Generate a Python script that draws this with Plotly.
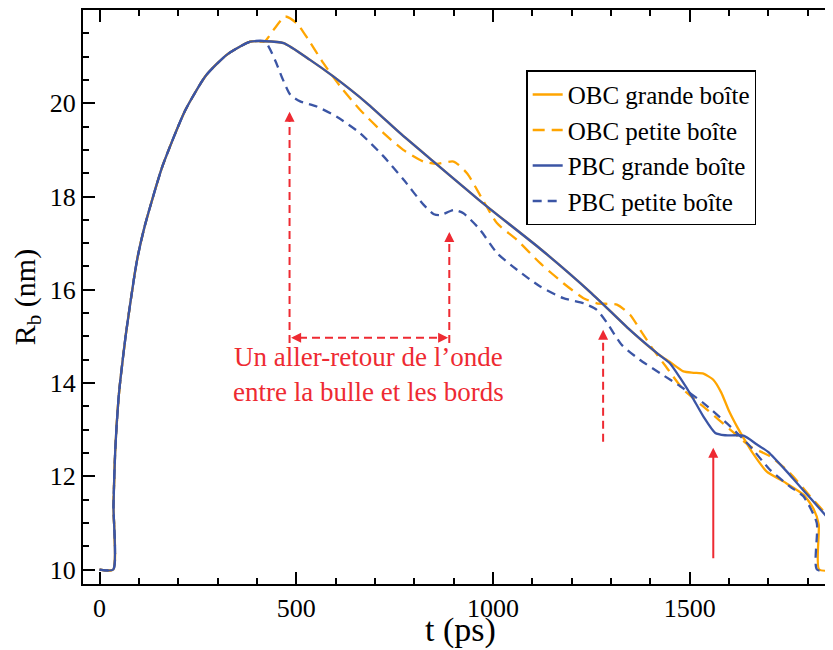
import plotly.graph_objects as go

# shared rise of the bubble radius (all four runs coincide here)
t_rise = [0, 35, 35.5, 40, 48, 53, 67, 89, 98, 115, 160, 218, 271, 325, 383, 420]
r_rise = [10, 10, 11.37, 12.57, 13.64, 14.07, 15.05, 16.32, 16.75, 17.37, 18.65, 19.85, 20.6, 21.05, 21.32, 21.33]

# large box: OBC and PBC coincide until ~1420 ps
t_grande = [468, 535, 595, 680, 764, 849, 934, 993, 1120, 1250, 1348, 1420]
r_grande = [21.29, 20.93, 20.57, 20.0, 19.36, 18.75, 18.14, 17.73, 16.88, 15.93, 15.14, 14.62]

t_obc_grande_end = [1450, 1484, 1510, 1535, 1560, 1580, 1600, 1620, 1637, 1660, 1696, 1740, 1790, 1815, 1828, 1829, 1880]
r_obc_grande_end = [14.45, 14.25, 14.22, 14.2, 14.07, 13.8, 13.4, 13.07, 12.82, 12.5, 12.1, 11.88, 11.6, 11.3, 10.97, 10.0, 10.0]

t_pbc_grande_end = [1450, 1475, 1505, 1535, 1565, 1590, 1637, 1671, 1700, 1747, 1772, 1810, 1864, 1880]
r_pbc_grande_end = [14.42, 14.12, 13.72, 13.28, 12.93, 12.88, 12.87, 12.68, 12.52, 12.1, 11.86, 11.5, 10.98, 10.8]

t_obc_petite = [442, 472, 502, 531, 569, 612, 662, 722, 772, 823, 857, 900, 934, 976, 1010, 1061,
                1120, 1179, 1230, 1264, 1315, 1349, 1374, 1408, 1440, 1484, 1544, 1603, 1654, 1704,
                1755, 1806, 1861, 1862, 1880]
r_obc_petite = [21.57, 21.86, 21.71, 21.36, 20.86, 20.36, 19.86, 19.36, 19.0, 18.75, 18.7, 18.75, 18.5, 17.9, 17.43, 17.07,
                16.57, 16.14, 15.82, 15.71, 15.68, 15.46, 15.14, 14.71, 14.35, 13.86, 13.43, 13.0, 12.64, 12.43,
                12.07, 11.57, 11.0, 10.0, 10.0]

t_pbc_petite = [446, 463, 485, 510, 552, 603, 662, 722, 773, 824, 850, 866, 900, 925, 967, 1010, 1061,
                1120, 1179, 1230, 1264, 1290, 1327, 1373, 1425, 1476, 1535, 1603, 1654, 1704, 1755,
                1789, 1823, 1823.5, 1880]
r_pbc_petite = [20.93, 20.57, 20.18, 20.04, 19.93, 19.71, 19.36, 18.86, 18.36, 17.82, 17.62, 17.6, 17.71, 17.64, 17.29, 16.79, 16.43,
                16.07, 15.82, 15.71, 15.57, 15.29, 14.82, 14.5, 14.21, 13.93, 13.57, 13.07, 12.64, 12.14, 11.78,
                11.57, 11.0, 10.0, 10.0]

# annotation arrows: (t, R bottom, R tip)
dashed_arrows = [(483, 14.86, 19.82), (889, 14.86, 17.24), (1280, 12.74, 15.14)]
solid_arrow = (1560, 10.21, 12.61)
span_arrow = (487, 886, 14.97)

ORANGE = '#FFA500'
BLUE = '#3B55A5'
RED = '#EE2A32'
FONT = 'Liberation Serif, Times New Roman, Times, serif'

series = [
    ('OBC grande boîte', t_rise + t_grande + t_obc_grande_end, r_rise + r_grande + r_obc_grande_end, ORANGE, 'solid'),
    ('OBC petite boîte', t_rise + t_obc_petite, r_rise + r_obc_petite, ORANGE, '12px,7px'),
    ('PBC grande boîte', t_rise + t_grande + t_pbc_grande_end, r_rise + r_grande + r_pbc_grande_end, BLUE, 'solid'),
    ('PBC petite boîte', t_rise + t_pbc_petite, r_rise + r_pbc_petite, BLUE, '9px,6px'),
]

fig = go.Figure()
for name, t, r, color, dash in series:
    fig.add_trace(go.Scatter(x=t, y=r, mode='lines', name=name,
                             line=dict(color=color, width=2.3, dash=dash, shape='spline', smoothing=0.6)))

shapes = []
annotations = []
for t, r0, r1 in dashed_arrows:
    shapes.append(dict(type='line', xref='x', yref='y', x0=t, x1=t, y0=r0, y1=r1 - 0.2,
                       line=dict(color=RED, width=2, dash='8px,5px')))
    annotations.append(dict(x=t, y=r1, ax=0, ay=10, text='', showarrow=True, arrowhead=2,
                            arrowsize=1, arrowwidth=2, arrowcolor=RED))

t, r0, r1 = solid_arrow
annotations.append(dict(x=t, y=r1, ax=t, ay=r0, axref='x', ayref='y', text='', showarrow=True,
                        arrowhead=2, arrowsize=1, arrowwidth=2, arrowcolor=RED))

t0, t1, r = span_arrow
shapes.append(dict(type='line', xref='x', yref='y', x0=t0 + 20, x1=t1 - 20, y0=r, y1=r,
                   line=dict(color=RED, width=2, dash='8px,5px')))
annotations.append(dict(x=t0, y=r, ax=10, ay=0, text='', showarrow=True, arrowhead=2,
                        arrowsize=1, arrowwidth=2, arrowcolor=RED))
annotations.append(dict(x=t1, y=r, ax=-10, ay=0, text='', showarrow=True, arrowhead=2,
                        arrowsize=1, arrowwidth=2, arrowcolor=RED))

annotations.append(dict(x=684, y=14.18, xref='x', yref='y', showarrow=False,
                        text='Un aller-retour de l’onde<br>entre la bulle et les bords',
                        font=dict(family=FONT, size=27, color=RED)))

# x axis title placed just under the tick labels
annotations.append(dict(x=0.5, y=-0.08, xref='paper', yref='paper', showarrow=False,
                        xanchor='center', yanchor='middle', text='t (ps)',
                        font=dict(family=FONT, size=34, color='black')))

axis_common = dict(showline=True, linecolor='black', linewidth=2, mirror='ticks',
                   ticks='inside', ticklen=12, tickwidth=2, tickcolor='black',
                   showgrid=False, zeroline=False, automargin=False,
                   tickfont=dict(family=FONT, size=26, color='black'))

fig.update_layout(
    width=833, height=650,
    paper_bgcolor='white', plot_bgcolor='white',
    margin=dict(l=75, r=3, t=2, b=74),
    font=dict(family=FONT),
    shapes=shapes,
    annotations=annotations,
    legend=dict(x=0.587, y=0.895, xanchor='left', yanchor='top',
                bgcolor='white', bordercolor='black', borderwidth=1.5,
                font=dict(family=FONT, size=25, color='black')),
    xaxis=dict(range=[-42, 1877], dtick=500,
               minor=dict(dtick=100, ticks='inside', ticklen=6, tickwidth=2, tickcolor='black'),
               **axis_common),
    yaxis=dict(range=[9.69, 22.0], dtick=2,
               minor=dict(dtick=0.5, ticks='inside', ticklen=6, tickwidth=2, tickcolor='black'),
               title=dict(text='R<sub>b</sub> (nm)', font=dict(family=FONT, size=30, color='black'), standoff=6),
               **axis_common),
)

fig.write_html('out.html')
